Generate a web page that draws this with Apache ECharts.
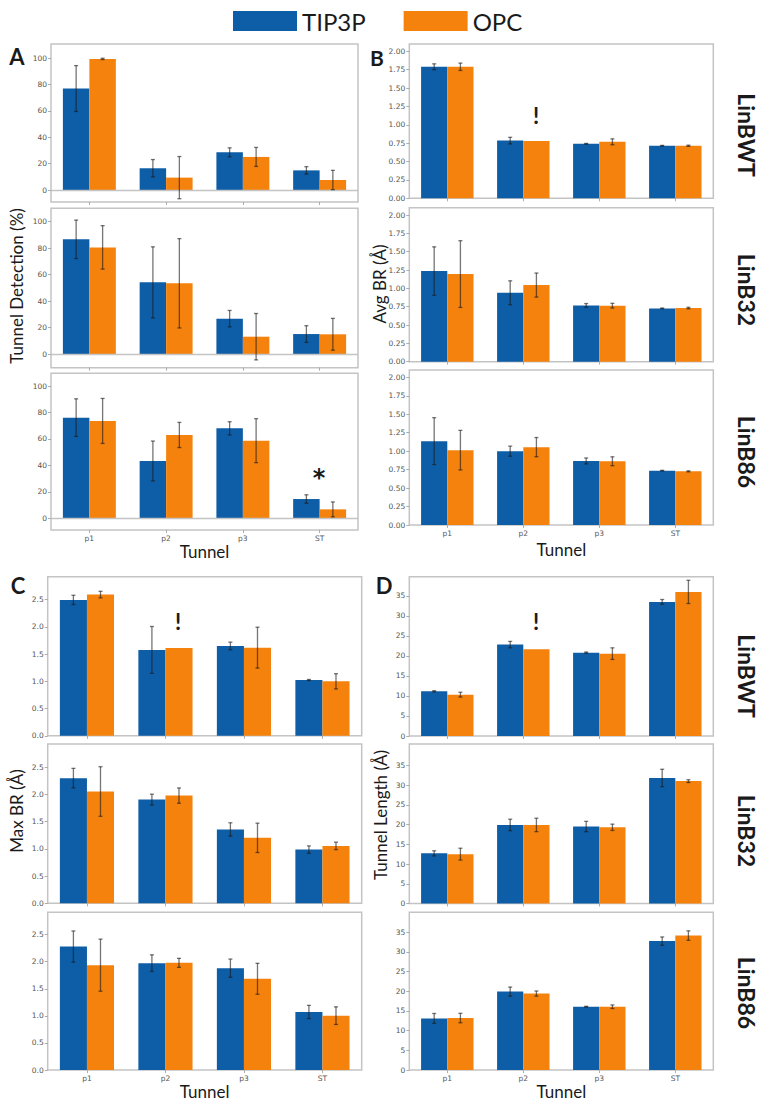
<!DOCTYPE html>
<html><head><meta charset="utf-8">
<script src="https://cdn.jsdelivr.net/npm/echarts@6/dist/echarts.min.js"></script>
<style>html,body{margin:0;padding:0;background:#fff}#c{width:762px;height:1101px}</style>
</head><body><div id="c"></div><script>
// ---------- DATA ----------
const categories = ['p1', 'p2', 'p3', 'ST'];
const seriesNames = ['TIP3P', 'OPC'];
const variants = ['LinBWT', 'LinB32', 'LinB86'];

// Panel A: Tunnel Detection (%) — rows: LinBWT, LinB32, LinB86
const detectionTIP3P    = [[77.0, 16.5, 28.6, 14.9], [86.7, 54.2, 26.8, 15.2], [76.1, 43.3, 68.0, 14.6]];
const detectionTIP3PErr = [[17.4, 6.6, 3.4, 2.8], [14.5, 26.8, 6.2, 6.3], [14.2, 15.1, 5.0, 3.2]];
const detectionOPC      = [[99.5, 9.4, 25.1, 7.6], [80.6, 53.5, 13.2, 15.0], [73.6, 63.0, 58.7, 6.8]];
const detectionOPCErr   = [[0.5, 16.0, 7.2, 7.3], [16.4, 33.7, 17.5, 12.0], [17.0, 9.5, 16.6, 5.6]];

// Panel B: Avg BR (Å)
const avgBrTIP3P    = [[1.79, 0.785, 0.742, 0.715], [1.236, 0.94, 0.768, 0.727], [1.136, 1.0, 0.868, 0.736]];
const avgBrTIP3PErr = [[0.04, 0.045, 0.005, 0.005], [0.33, 0.163, 0.025, 0.005], [0.318, 0.068, 0.04, 0.005]];
const avgBrOPC      = [[1.79, 0.78, 0.769, 0.715], [1.195, 1.045, 0.764, 0.732], [1.014, 1.055, 0.864, 0.727]];
const avgBrOPCErr   = [[0.05, 0.0, 0.04, 0.008], [0.455, 0.164, 0.032, 0.01], [0.268, 0.13, 0.06, 0.007]];

// Panel C: Max BR (Å)
const maxBrTIP3P    = [[2.494, 1.576, 1.649, 1.024], [2.302, 1.907, 1.358, 0.988], [2.278, 1.972, 1.88, 1.072]];
const maxBrTIP3PErr = [[0.085, 0.43, 0.07, 0.01], [0.18, 0.1, 0.123, 0.068], [0.288, 0.153, 0.168, 0.122]];
const maxBrOPC      = [[2.592, 1.612, 1.618, 1.0], [2.056, 1.981, 1.204, 1.056], [1.935, 1.978, 1.684, 1.004]];
const maxBrOPCErr   = [[0.06, 0.0, 0.375, 0.14], [0.456, 0.14, 0.27, 0.068], [0.48, 0.083, 0.285, 0.162]];

// Panel D: Tunnel Length (Å)
const lengthTIP3P    = [[11.17, 22.83, 20.83, 33.5], [12.7, 19.9, 19.5, 31.8], [13.1, 19.9, 16.07, 32.7]];
const lengthTIP3PErr = [[0.15, 0.8, 0.15, 0.6], [0.65, 1.45, 1.3, 2.2], [1.25, 1.15, 0.1, 1.05]];
const lengthOPC      = [[10.33, 21.67, 20.58, 36.0], [12.5, 19.9, 19.3, 31.0], [13.2, 19.4, 16.07, 34.1]];
const lengthOPCErr   = [[0.6, 0.0, 1.45, 2.9], [1.5, 1.7, 0.8, 0.35], [1.2, 0.65, 0.45, 1.2]];

// Tick labels
const ticksA = [0, 20, 40, 60, 80, 100];
const ticksB = [0, 0.25, 0.5, 0.75, 1.0, 1.25, 1.5, 1.75, 2.0];
const ticksC = [0, 0.5, 1.0, 1.5, 2.0, 2.5];
const ticksD = [0, 5, 10, 15, 20, 25, 30, 35];

// ---------- LAYOUT / STYLE ----------
const BLUE = '#0e5ea7', ORANGE = '#f5820c';
const BARW = 0.345;
const BOX = '#c4c4c4';
const TXT = '#1a1a1a';

const panels = [
  { letter: 'A', ylabel: 'Tunnel Detection (%)', tip: detectionTIP3P, tipErr: detectionTIP3PErr, opc: detectionOPC, opcErr: detectionOPCErr,
    ticks: ticksA, dec: 0, left: 51, width: 307, zero: true, nameGap: 13,
    rows: [{ top: 44, bottom: 202, min: -9.1, max: 110.8 }, { top: 208.3, bottom: 367.7, min: -10.2, max: 110.1 }, { top: 373.3, bottom: 530, min: -8.8, max: 109.6 }] },
  { letter: 'B', ylabel: 'Avg BR (Å)', tip: avgBrTIP3P, tipErr: avgBrTIP3PErr, opc: avgBrOPC, opcErr: avgBrOPCErr,
    ticks: ticksB, dec: 2, left: 409.3, width: 304, nameGap: 16,
    rows: [{ top: 44, bottom: 198.3, min: 0, max: 2.1 }, { top: 207.7, bottom: 361.7, min: 0, max: 2.1 }, { top: 370, bottom: 525, min: 0, max: 2.1 }] },
  { letter: 'C', ylabel: 'Max BR (Å)', tip: maxBrTIP3P, tipErr: maxBrTIP3PErr, opc: maxBrOPC, opcErr: maxBrOPCErr,
    ticks: ticksC, dec: 1, left: 47.7, width: 314, nameGap: 10,
    rows: [{ top: 576.7, bottom: 735.8, min: 0, max: 2.92 }, { top: 744, bottom: 903.3, min: 0, max: 2.93 }, { top: 912.3, bottom: 1071, min: 0, max: 2.91 }] },
  { letter: 'D', ylabel: 'Tunnel Length (Å)', tip: lengthTIP3P, tipErr: lengthTIP3PErr, opc: lengthOPC, opcErr: lengthOPCErr,
    ticks: ticksD, dec: 0, left: 409.3, width: 304, nameGap: 10,
    rows: [{ top: 576.7, bottom: 736, min: 0, max: 39.8 }, { top: 744, bottom: 903.5, min: 0, max: 40.4 }, { top: 912.3, bottom: 1071, min: 0, max: 40 }] }
];

function renderErr(params, api) {
  const ci = api.value(0), v = api.value(1), e = api.value(2), s = api.value(3);
  if (!(e > 0)) return null;
  const band = api.size([1, 0])[0];
  const off = (s === 0 ? -1 : 1) * band * BARW / 2;
  const top = api.coord([ci, v + e]);
  const bot = api.coord([ci, v - e]);
  const x = top[0] + off;
  const cap = 2;
  const st = { stroke: 'rgba(25,25,25,0.6)', lineWidth: 1.3 };
  return { type: 'group', children: [
    { type: 'line', shape: { x1: x, y1: top[1], x2: x, y2: bot[1] }, style: st },
    { type: 'line', shape: { x1: x - cap, y1: top[1], x2: x + cap, y2: top[1] }, style: st },
    { type: 'line', shape: { x1: x - cap, y1: bot[1], x2: x + cap, y2: bot[1] }, style: st }
  ] };
}

const grids = [], xAxes = [], yAxes = [], series = [];
panels.forEach((p) => {
  p.rows.forEach((r, ri) => {
    const gi = grids.length;
    const isBottom = ri === 2;
    grids.push({ left: p.left, top: r.top, width: p.width, height: r.bottom - r.top,
      show: true, borderColor: BOX, borderWidth: 1.5, backgroundColor: 'transparent' });
    xAxes.push({ type: 'category', gridIndex: gi, data: categories,
      axisLine: { show: false, onZero: false },
      axisTick: { show: true, alignWithLabel: true, length: 3, lineStyle: { color: '#999', width: 0.8 } },
      axisLabel: { show: isBottom, fontSize: 7.5, color: '#555', margin: 4, fontFamily: 'DejaVu Sans' },
      name: isBottom ? 'Tunnel' : '', nameLocation: 'middle', nameGap: p.nameGap,
      nameTextStyle: { fontSize: 17, color: TXT, fontFamily: 'Lato' } });
    yAxes.push({ type: 'value', gridIndex: gi, min: r.min, max: r.max,
      splitLine: { show: false }, axisLine: { show: false },
      axisTick: { show: true, length: 3, customValues: p.ticks, lineStyle: { color: '#999', width: 0.8 } },
      axisLabel: { fontSize: 7.5, color: '#555', margin: 4, fontFamily: 'DejaVu Sans', customValues: p.ticks,
        formatter: (v) => Number(v).toFixed(p.dec) } });
    const tipBar = { type: 'bar', name: seriesNames[0], xAxisIndex: gi, yAxisIndex: gi, data: p.tip[ri],
      barWidth: (BARW * 100) + '%', barGap: '0%', itemStyle: { color: BLUE }, z: 2 };
    if (p.zero) {
      tipBar.markLine = { silent: true, symbol: 'none', label: { show: false }, animation: false,
        lineStyle: { color: BOX, width: 1.3, type: 'solid' }, data: [{ yAxis: 0 }] };
    }
    series.push(tipBar);
    series.push({ type: 'bar', name: seriesNames[1], xAxisIndex: gi, yAxisIndex: gi, data: p.opc[ri],
      barWidth: (BARW * 100) + '%', barGap: '0%', itemStyle: { color: ORANGE }, z: 2 });
    const errData = [];
    categories.forEach((c, ci) => {
      errData.push([ci, p.tip[ri][ci], p.tipErr[ri][ci], 0]);
      errData.push([ci, p.opc[ri][ci], p.opcErr[ri][ci], 1]);
    });
    series.push({ type: 'custom', name: 'err', xAxisIndex: gi, yAxisIndex: gi, data: errData,
      renderItem: renderErr, encode: { x: 0, y: 1 }, z: 5, silent: true });
  });
});

function txt(text, x, y, opts) {
  opts = opts || {};
  return { type: 'text', x: x, y: y, rotation: opts.rot || 0, z: 100,
    style: { text: text, x: 0, y: 0, font: opts.font || '17px Lato', fill: opts.fill || TXT,
      align: 'center', verticalAlign: 'middle', textAlign: 'center', textVerticalAlign: 'middle' } };
}
const sideFont = 'bold 23px Lato';
const SX = 747;
const graphics = [
  txt('A', 17, 56, { font: 'bold 22px Lato' }),
  txt('B', 377, 57, { font: 'bold 21px Lato' }),
  txt('C', 18, 585, { font: 'bold 22px Lato' }),
  txt('D', 384, 585, { font: 'bold 22px Lato' }),
  txt('Tunnel Detection (%)', 16, 286, { rot: Math.PI / 2 }),
  txt('Avg BR (Å)', 379, 284, { rot: Math.PI / 2 }),
  txt('Max BR (Å)', 16, 811, { rot: Math.PI / 2 }),
  txt('Tunnel Length (Å)', 380, 815, { rot: Math.PI / 2 }),
  txt(variants[0], SX, 135, { rot: -Math.PI / 2, font: sideFont }),
  txt(variants[1], SX, 290, { rot: -Math.PI / 2, font: sideFont }),
  txt(variants[2], SX, 452, { rot: -Math.PI / 2, font: sideFont }),
  txt(variants[0], SX, 676, { rot: -Math.PI / 2, font: sideFont }),
  txt(variants[1], SX, 831, { rot: -Math.PI / 2, font: sideFont }),
  txt(variants[2], SX, 993, { rot: -Math.PI / 2, font: sideFont }),
  txt('!', 536, 115, { font: 'bold 22px Lato' }),
  txt('!', 178, 621, { font: 'bold 22px Lato' }),
  txt('!', 536, 621, { font: 'bold 22px Lato' }),
  txt('*', 319, 478, { font: 'bold 24px DejaVu Sans' })
];

const chart = echarts.init(document.getElementById('c'), null, { renderer: 'svg', width: 762, height: 1101 });
chart.setOption({
  animation: false,
  backgroundColor: '#fff',
  legend: { data: seriesNames, left: 228, top: 4, icon: 'rect', itemWidth: 64, itemHeight: 20, itemGap: 38,
    textStyle: { fontSize: 24, color: TXT, fontFamily: 'Lato' } },
  grid: grids, xAxis: xAxes, yAxis: yAxes, series: series, graphic: graphics
});
</script></body></html>
